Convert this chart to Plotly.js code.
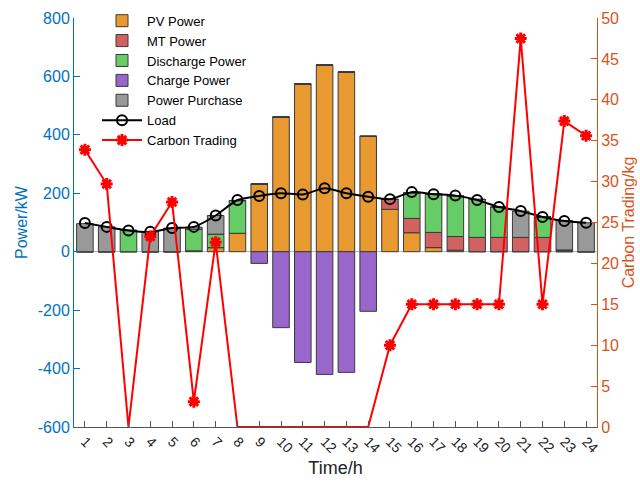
<!DOCTYPE html>
<html>
<head>
<meta charset="utf-8">
<script src="https://cdn.plot.ly/plotly-3.0.1.min.js"></script>
<style>html,body{margin:0;padding:0;background:#fff;}#chart{width:640px;height:482px;}</style>
</head>
<body>
<div id="chart"></div>
<script>
const hours = [1,2,3,4,5,6,7,8,9,10,11,12,13,14,15,16,17,18,19,20,21,22,23,24];
const hourLabels = hours.map(String);
const powerTicks = [-600,-400,-200,0,200,400,600,800];
const powerTickLabels = ['-600','-400','-200','0','200','400','600','800'];
const pvPower        = [0,0,0,0,0,3,14,63,232,461,574,639,615,395,145,65,14,5,0,0,0,0,0,0];
const mtPower        = [0,0,0,0,0,0,0,0,0,0,0,0,0,0,34,49,52,47,49,49,49,49,6,0];
const dischargePower = [0,0,73,0,0,74,46,112,0,0,0,0,0,0,0,87,131,139,130,104,0,70,0,0];
const chargePower    = [0,0,0,0,0,0,0,0,-40,-260,-379,-420,-413,-204,0,0,0,0,0,0,0,0,0,0];
const powerPurchase  = [96,85,0,68,81,7,64,0,0,0,0,0,0,0,0,0,0,0,0,0,90,0,101,99];
const loadPower      = [98,85,73,68,81,85,124,177,191,200,196,217,200,188,180,204,197,192,177,153,139,119,105,99];
const carbonTrading  = [33.9,29.7,0,23.3,27.5,3.1,22.6,0,0,0,0,0,0,0,10,15,15,15,15,15,47.5,15,37.4,35.6];

const blue = '#0072BD', orange = '#D95319';
const barLine = {color:'#3a3a3a', width:1};
function barTrace(name, y, color){
  return {type:'bar', name:name, x:hours, y:y, width:0.76,
    marker:{color:color, line:barLine}, yaxis:'y', hoverinfo:'x+y'};
}
const ctMarkerColor = carbonTrading.map(v => v === 0 ? 'rgba(255,0,0,0)' : '#FF0000');
const data = [
  barTrace('PV Power', pvPower, '#E8992F'),
  barTrace('MT Power', mtPower, '#D06262'),
  barTrace('Discharge Power', dischargePower, '#66CC66'),
  barTrace('Charge Power', chargePower, '#9966CC'),
  barTrace('Power Purchase', powerPurchase, '#999999'),
  {type:'scatter', mode:'lines+markers', name:'Load', x:hours, y:loadPower, yaxis:'y',
    line:{color:'#000', width:2, shape:'spline', smoothing:0.6},
    marker:{symbol:'circle-open', size:10, color:'#000', line:{width:2, color:'#000'}}},
  {type:'scatter', mode:'lines+markers', name:'Carbon Trading', x:hours, y:carbonTrading, yaxis:'y2',
    line:{color:'#FF0000', width:2},
    marker:{symbol:'asterisk-open', size:10, color:ctMarkerColor, line:{width:3, color:ctMarkerColor}}}
];
const fam = 'Arial, "Liberation Sans", sans-serif';
const layout = {
  width:640, height:482,
  margin:{l:74, r:43, t:18, b:55, autoexpand:false},
  paper_bgcolor:'#fff', plot_bgcolor:'#fff',
  font:{family:fam, size:14, color:'#000'},
  barmode:'relative', bargap:0.24,
  showlegend:true,
  legend:{x:0.044, y:1.03, xanchor:'left', yanchor:'top', bgcolor:'rgba(255,255,255,1)',
    borderwidth:0, font:{family:fam, size:13, color:'#000'}, itemwidth:40, tracegroupgap:0},
  xaxis:{range:[0.5,24.5], tickmode:'array', tickvals:hours, ticktext:hourLabels, tickangle:45,
    ticks:'inside', ticklen:6, tickcolor:'#555', showline:true, linecolor:'#555', linewidth:1,
    showgrid:false, zeroline:false, tickfont:{size:14, color:'#222'},
    title:{text:'Time/h', font:{size:18, color:'#222'}, standoff:6}},
  yaxis:{range:[-600,800], tickmode:'array', tickvals:powerTicks, ticktext:powerTickLabels,
    ticks:'inside', ticklen:6, tickcolor:blue,
    showline:true, linecolor:blue, linewidth:1, showgrid:false,
    zeroline:true, zerolinecolor:'#8fbde0', zerolinewidth:1,
    tickfont:{size:16, color:blue},
    title:{text:'Power/kW', font:{size:16, color:blue}, standoff:6}},
  yaxis2:{range:[0,50], dtick:5, overlaying:'y', side:'right', ticks:'inside', ticklen:6,
    tickcolor:orange, showline:true, linecolor:orange, linewidth:1, showgrid:false, zeroline:false,
    tickfont:{size:16, color:orange},
    title:{text:'Carbon Trading/kg', font:{size:16, color:orange}, standoff:4}}
};
Plotly.newPlot('chart', data, layout, {displayModeBar:false, staticPlot:true});
</script>
</body>
</html>
